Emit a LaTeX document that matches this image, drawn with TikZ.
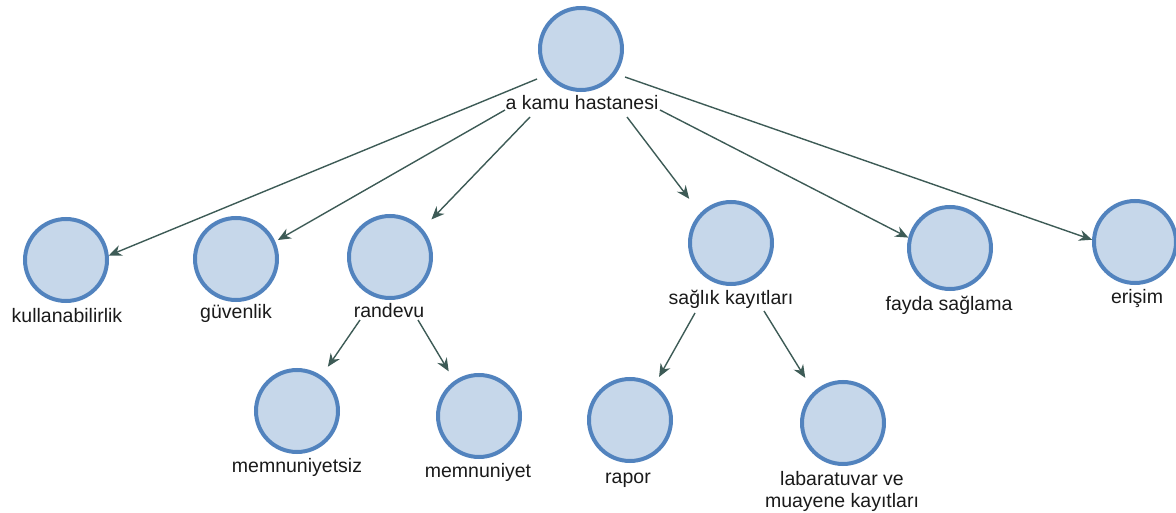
\documentclass[tikz,border=0pt]{standalone}
\usepackage{fontspec}
\setmainfont{Liberation Sans}
\usetikzlibrary{arrows.meta}
\definecolor{cfill}{HTML}{C6D7EA}
\definecolor{cline}{HTML}{5283BE}
\definecolor{aline}{HTML}{3D5B56}
\definecolor{tcol}{HTML}{1A1A1A}
\tikzset{
  circ/.style={circle, draw=cline, fill=cfill, line width=4pt, minimum size=82pt, inner sep=0pt},
  lbl/.style={anchor=base, inner sep=0pt, text=tcol, font=\fontsize{19.5}{22}\selectfont, align=center},
  arr/.style={draw=aline, line width=1.4pt, -{Stealth[length=13pt,width=11pt]}},
}
\begin{document}
\begin{tikzpicture}[x=1pt,y=-1pt]
\useasboundingbox (0,0) rectangle (1176,513);
% circles
\node[circ] (root) at (581,49) {};
\node[circ] (kul) at (66,260) {};
\node[circ] (guv) at (236,259) {};
\node[circ] (ran) at (390,257) {};
\node[circ] (sag) at (731,243) {};
\node[circ] (fay) at (950,248) {};
\node[circ] (eri) at (1135,242) {};
\node[circ] (mnsz) at (297,411) {};
\node[circ] (mn) at (479,416) {};
\node[circ] (rap) at (630,420) {};
\node[circ] (lab) at (843,423) {};
% labels
\node[lbl] (lroot) at (582,110) {a kamu hastanesi};
\node[lbl] (lkul) at (67,322) {kullanabilirlik};
\node[lbl] (lguv) at (236,318) {güvenlik};
\node[lbl] (lran) at (389,317) {randevu};
\node[lbl] (lsag) at (731,305) {sağlık kayıtları};
\node[lbl] (lfay) at (949,311) {fayda sağlama};
\node[lbl] (leri) at (1137,303) {erişim};
\node[lbl] (lmnsz) at (297,472) {memnuniyetsiz};
\node[lbl] (lmn) at (478,477) {memnuniyet};
\node[lbl] (lrap) at (628,483) {rapor};
\node[lbl] (llab) at (842,507) {labaratuvar ve\\muayene kayıtları};
% start points
\coordinate (s1) at (537,79);
\coordinate (s2) at (505,110);
\coordinate (s3) at (530,117);
\coordinate (s4) at (627,117);
\coordinate (s5) at (660,110);
\coordinate (s6) at (625,77);
\coordinate (s7) at (360,320);
\coordinate (s8) at (418,320);
\coordinate (s9) at (695,313);
\coordinate (s10) at (764,311);
% connectors
\draw[arr] (s1) -- (kul.6);
\draw[arr, shorten >=3pt] (s2) -- (guv.24);
\draw[arr, shorten >=13pt] (s3) -- (ran.41);
\draw[arr, shorten >=18pt] (s4) -- (sag.136);
\draw[arr] (s5) -- (fay.166);
\draw[arr] (s6) -- (eri.177);
\draw[arr, shorten >=11pt] (s7) -- (mnsz.55);
\draw[arr, shorten >=11pt] (s8) -- (mn.125);
\draw[arr, shorten >=9pt] (s9) -- (rap.55);
\draw[arr, shorten >=16pt] (s10) -- (lab.133);
\end{tikzpicture}
\end{document}
